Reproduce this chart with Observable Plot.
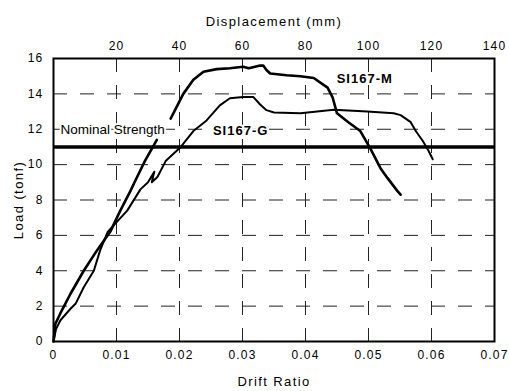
<!DOCTYPE html>
<html>
<head>
<meta charset="utf-8">
<script src="https://cdn.jsdelivr.net/npm/d3@7"></script>
<script src="https://cdn.jsdelivr.net/npm/@observablehq/plot@0.6"></script>
<style>
  html, body { margin: 0; padding: 0; background: #fff; }
  #chart svg { display: block; }
  #chart svg [aria-label$="label"] text, #chart svg g[aria-label="x-axis label"] text, #chart svg g[aria-label="y-axis label"] text { letter-spacing: 1.2px; }
</style>
</head>
<body>
<div id="chart"></div>
<script>
// Drift ratio ticks (bottom axis) and displacement ticks (top axis, mm)
const driftTicks = [0, 0.01, 0.02, 0.03, 0.04, 0.05, 0.06, 0.07];
const displacementTicks = [20, 40, 60, 80, 100, 120, 140];
const storyHeightMm = 2000; // displacement = drift * 2000 mm
const loadTicks = [0, 2, 4, 6, 8, 10, 12, 14, 16];
const nominalStrength = 11;

// SI167-M (null marks the break in the record)
const mDrift = [0, 0.0003, 0.0011, 0.0027, 0.0048, 0.0069, 0.009, 0.0106, 0.0122, 0.013, 0.0145, 0.0164, null,
  0.0186, 0.0206, 0.0222, 0.0238, 0.0259, 0.028, 0.0301, 0.031, 0.0328, 0.0333, 0.0338, 0.0344, 0.037, 0.0392,
  0.0413, 0.0435, 0.0443, 0.045, 0.0468, 0.0487, 0.0503, 0.0519, 0.053, 0.0546, 0.0551];
const mLoad = [0, 1.0, 1.6, 2.7, 4.0, 5.15, 6.2, 7.4, 8.5, 9.1, 10.2, 11.4, null,
  12.6, 14.0, 14.8, 15.25, 15.4, 15.45, 15.53, 15.45, 15.6, 15.6, 15.35, 15.15, 15.05, 15.0,
  14.9, 14.35, 13.8, 12.9, 12.4, 11.9, 10.9, 9.8, 9.25, 8.5, 8.3];

// SI167-G
const gDrift = [0, 0.0004, 0.0011, 0.0027, 0.0035, 0.0048, 0.0064, 0.0074, 0.0086, 0.0117, 0.0138, 0.015,
  0.016, 0.0156, 0.0165, 0.0178, 0.0202, 0.0222, 0.0243, 0.0264, 0.028, 0.0301, 0.0317, 0.0328, 0.0338,
  0.035, 0.0392, 0.0445, 0.0498, 0.054, 0.0551, 0.0567, 0.0575, 0.0586, 0.0595, 0.0602];
const gLoad = [0, 0.7, 1.2, 1.85, 2.13, 3.07, 4.0, 5.15, 6.2, 7.4, 8.6, 9.0,
  9.6, 9.0, 9.3, 10.2, 11.0, 11.9, 12.5, 13.35, 13.75, 13.83, 13.83, 13.4, 13.08,
  12.95, 12.9, 13.1, 13.0, 12.9, 12.8, 12.4, 11.9, 11.35, 10.8, 10.3];

const nominalLabel = [{text: "Nominal Strength", x: 0.0011, y: 11.95}];
const seriesLabels = [
  {text: "SI167-M", x: 0.0494, y: 14.84},
  {text: "SI167-G", x: 0.0297, y: 11.9}
];

const mData = mDrift.map((x, i) => ({x, y: mLoad[i]}));
const gData = gDrift.map((x, i) => ({x, y: gLoad[i]}));

const fmtDrift = d => d === 0 ? "0" : d.toFixed(2);

const chart = Plot.plot({
  width: 509,
  height: 391,
  marginLeft: 53,
  marginRight: 15,
  marginTop: 58,
  marginBottom: 50,
  style: {fontFamily: "'Liberation Sans', Arial, sans-serif", fontSize: "12px", color: "#000", background: "#fff"},
  x: {domain: [0, 0.07]},
  y: {domain: [0, 16]},
  marks: [
    Plot.gridX(driftTicks.slice(1, -1), {stroke: "#222", strokeOpacity: 1, strokeWidth: 1, strokeDasharray: "14,13"}),
    Plot.gridY(loadTicks.slice(1, -1), {stroke: "#222", strokeOpacity: 1, strokeWidth: 1, strokeDasharray: "14,13"}),
    Plot.text(nominalLabel, {x: "x", y: "y", text: "text", textAnchor: "start", fontSize: 13.5, fill: "#000",
      stroke: "#fff", strokeWidth: 4, paintOrder: "stroke"}),
    Plot.text(seriesLabels, {x: "x", y: "y", text: "text", textAnchor: "middle", fontWeight: "bold", fontSize: 13,
      fill: "#000", stroke: "#fff", strokeWidth: 4, paintOrder: "stroke"}),
    Plot.ruleY([nominalStrength], {stroke: "#000", strokeWidth: 3.5}),
    Plot.line(gData, {x: "x", y: "y", stroke: "#000", strokeWidth: 2, curve: "linear"}),
    Plot.line(mData, {x: "x", y: "y", stroke: "#000", strokeWidth: 2.6, curve: "linear"}),
    Plot.frame({stroke: "#000", strokeWidth: 2}),
    Plot.axisX(driftTicks, {anchor: "bottom", tickSize: 0, tickPadding: 9, tickFormat: fmtDrift, fontSize: 12,
      label: "Drift Ratio", labelAnchor: "center", labelOffset: 44, labelArrow: "none"}),
    Plot.axisX(displacementTicks.map(d => d / storyHeightMm), {anchor: "top", tickSize: 0, tickPadding: 9,
      tickFormat: d => String(Math.round(d * storyHeightMm)), fontSize: 12,
      label: "Displacement (mm)", labelAnchor: "center", labelOffset: 42, labelArrow: "none"}),
    Plot.axisY(loadTicks, {anchor: "left", tickSize: 0, tickPadding: 10, fontSize: 12,
      label: "Load (tonf)", labelAnchor: "center", labelOffset: 40, labelArrow: "none"})
  ]
});
document.getElementById("chart").appendChild(chart);
// widen the axis titles and series labels like the scanned lettering
chart.querySelectorAll("text").forEach(t => {
  const s = t.textContent;
  if (s === "Displacement (mm)" || s === "Drift Ratio" || s === "Load (tonf)") {
    t.style.fontSize = "13px";
    t.style.letterSpacing = "1.4px";
  }
  if (s === "SI167-M" || s === "SI167-G") t.style.letterSpacing = "1px";
});
</script>
</body>
</html>
